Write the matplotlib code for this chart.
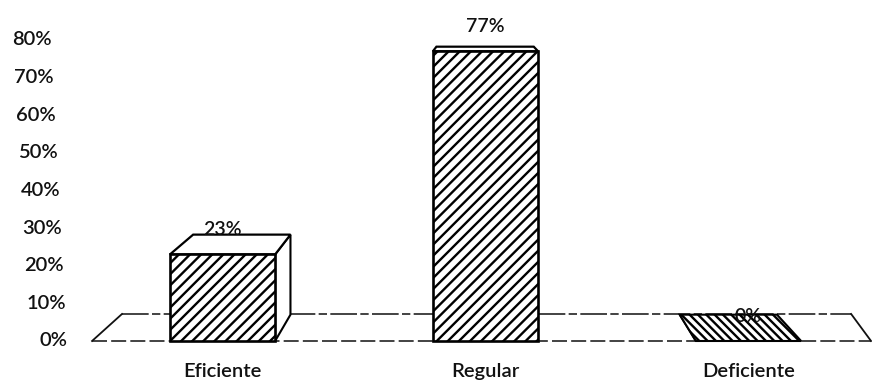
import matplotlib
matplotlib.use("Agg")
import matplotlib.pyplot as plt
from matplotlib.patches import Polygon

categories = ["Eficiente", "Regular", "Deficiente"]
values = [0.23, 0.77, 0.0]
value_labels = ["23%", "77%", "0%"]
y_ticks = [0.0, 0.1, 0.2, 0.3, 0.4, 0.5, 0.6, 0.7, 0.8]
y_tick_labels = ["0%", "10%", "20%", "30%", "40%", "50%", "60%", "70%", "80%"]

plt.rcParams["font.family"] = ["Lato", "DejaVu Sans"]
plt.rcParams["hatch.linewidth"] = 1.7

W, H, DPI = 872, 384, 100
fig = plt.figure(figsize=(W / DPI, H / DPI), dpi=DPI)
ax = fig.add_axes([0, 0, 1, 1])
ax.set_xlim(-0.846, 2.4696)
ax.set_ylim(-0.1143, 0.9063)
ax.axis("off")

TXT = dict(color="#111111", fontweight="semibold")

# perspective helpers: points recede toward a vanishing point by factor k
def recede(x, y, vx, vy, k):
    return x + k * (vx - x), y + k * (vy - y)

BAR_VP = (0.979, 0.933)
BAR_K = 0.075
FLOOR_VP = (1.283, 1.122)
FLOOR_K = 0.064
HALF = 0.2

# floor
fl, fr = -0.496, 2.466
bl = recede(fl, 0.0, *FLOOR_VP, FLOOR_K)
br = recede(fr, 0.0, *FLOOR_VP, FLOOR_K)
ax.add_patch(Polygon([(fl, 0), (fr, 0), br, bl], closed=True,
                     facecolor="white", edgecolor="none", zorder=1))
ax.plot([fl, fr], [0, 0], color="#222222", lw=1.2, ls=(0, (9, 2.5)), zorder=2)
ax.plot([bl[0], br[0]], [bl[1], br[1]], color="#222222", lw=1.2,
        ls=(0, (16, 2, 5, 2)), zorder=2)
ax.plot([fl, bl[0]], [0, bl[1]], color="#111111", lw=1.3, zorder=2)
ax.plot([fr, br[0]], [0, br[1]], color="#111111", lw=1.3, zorder=2)

# bars
for i, (v, lab) in enumerate(zip(values, value_labels)):
    x0, x1 = i - HALF, i + HALF
    ftl, ftr = (x0, v), (x1, v)
    btl = recede(x0, v, *BAR_VP, BAR_K)
    btr = recede(x1, v, *BAR_VP, BAR_K)
    bbl = recede(x0, 0.0, *BAR_VP, BAR_K)
    bbr = recede(x1, 0.0, *BAR_VP, BAR_K)

    # visible side face
    if x1 < BAR_VP[0]:
        ax.add_patch(Polygon([(x1, 0), ftr, btr, bbr], closed=True,
                             facecolor="white", edgecolor="black", lw=1.5,
                             zorder=3))
    elif x0 > BAR_VP[0]:
        ax.add_patch(Polygon([(x0, 0), ftl, btl, bbl], closed=True,
                             facecolor="white", edgecolor="black", lw=1.5,
                             zorder=3))

    # top face (carries the pattern when the bar is flat)
    if v == 0:
        ax.add_patch(Polygon([ftl, ftr, btr, btl], closed=True,
                             facecolor="white", edgecolor="black", lw=1.5,
                             hatch="\\\\\\\\", zorder=4))
    else:
        ax.add_patch(Polygon([ftl, ftr, btr, btl], closed=True,
                             facecolor="white", edgecolor="black", lw=1.6,
                             zorder=4))
        # front face
        ax.add_patch(Polygon([(x0, 0), (x1, 0), ftr, ftl], closed=True,
                             facecolor="white", edgecolor="black", lw=1.9,
                             hatch="///", zorder=5))

    ax.text(i, v + 0.066, lab, ha="center", va="center", fontsize=14,
            zorder=6, **TXT)

# category labels
for i, c in enumerate(categories):
    ax.text(i, -0.0824, c, ha="center", va="center", fontsize=14.5, **TXT)

# value axis labels, slanted along the wall edge
for t, tl in zip(y_ticks, y_tick_labels):
    px = 68 - 16 * (t / 0.8)
    ax.text((px - 222.5) / 263, t, tl, ha="right", va="center",
            fontsize=14.5, **TXT)

fig.savefig("out.png", dpi=DPI)
